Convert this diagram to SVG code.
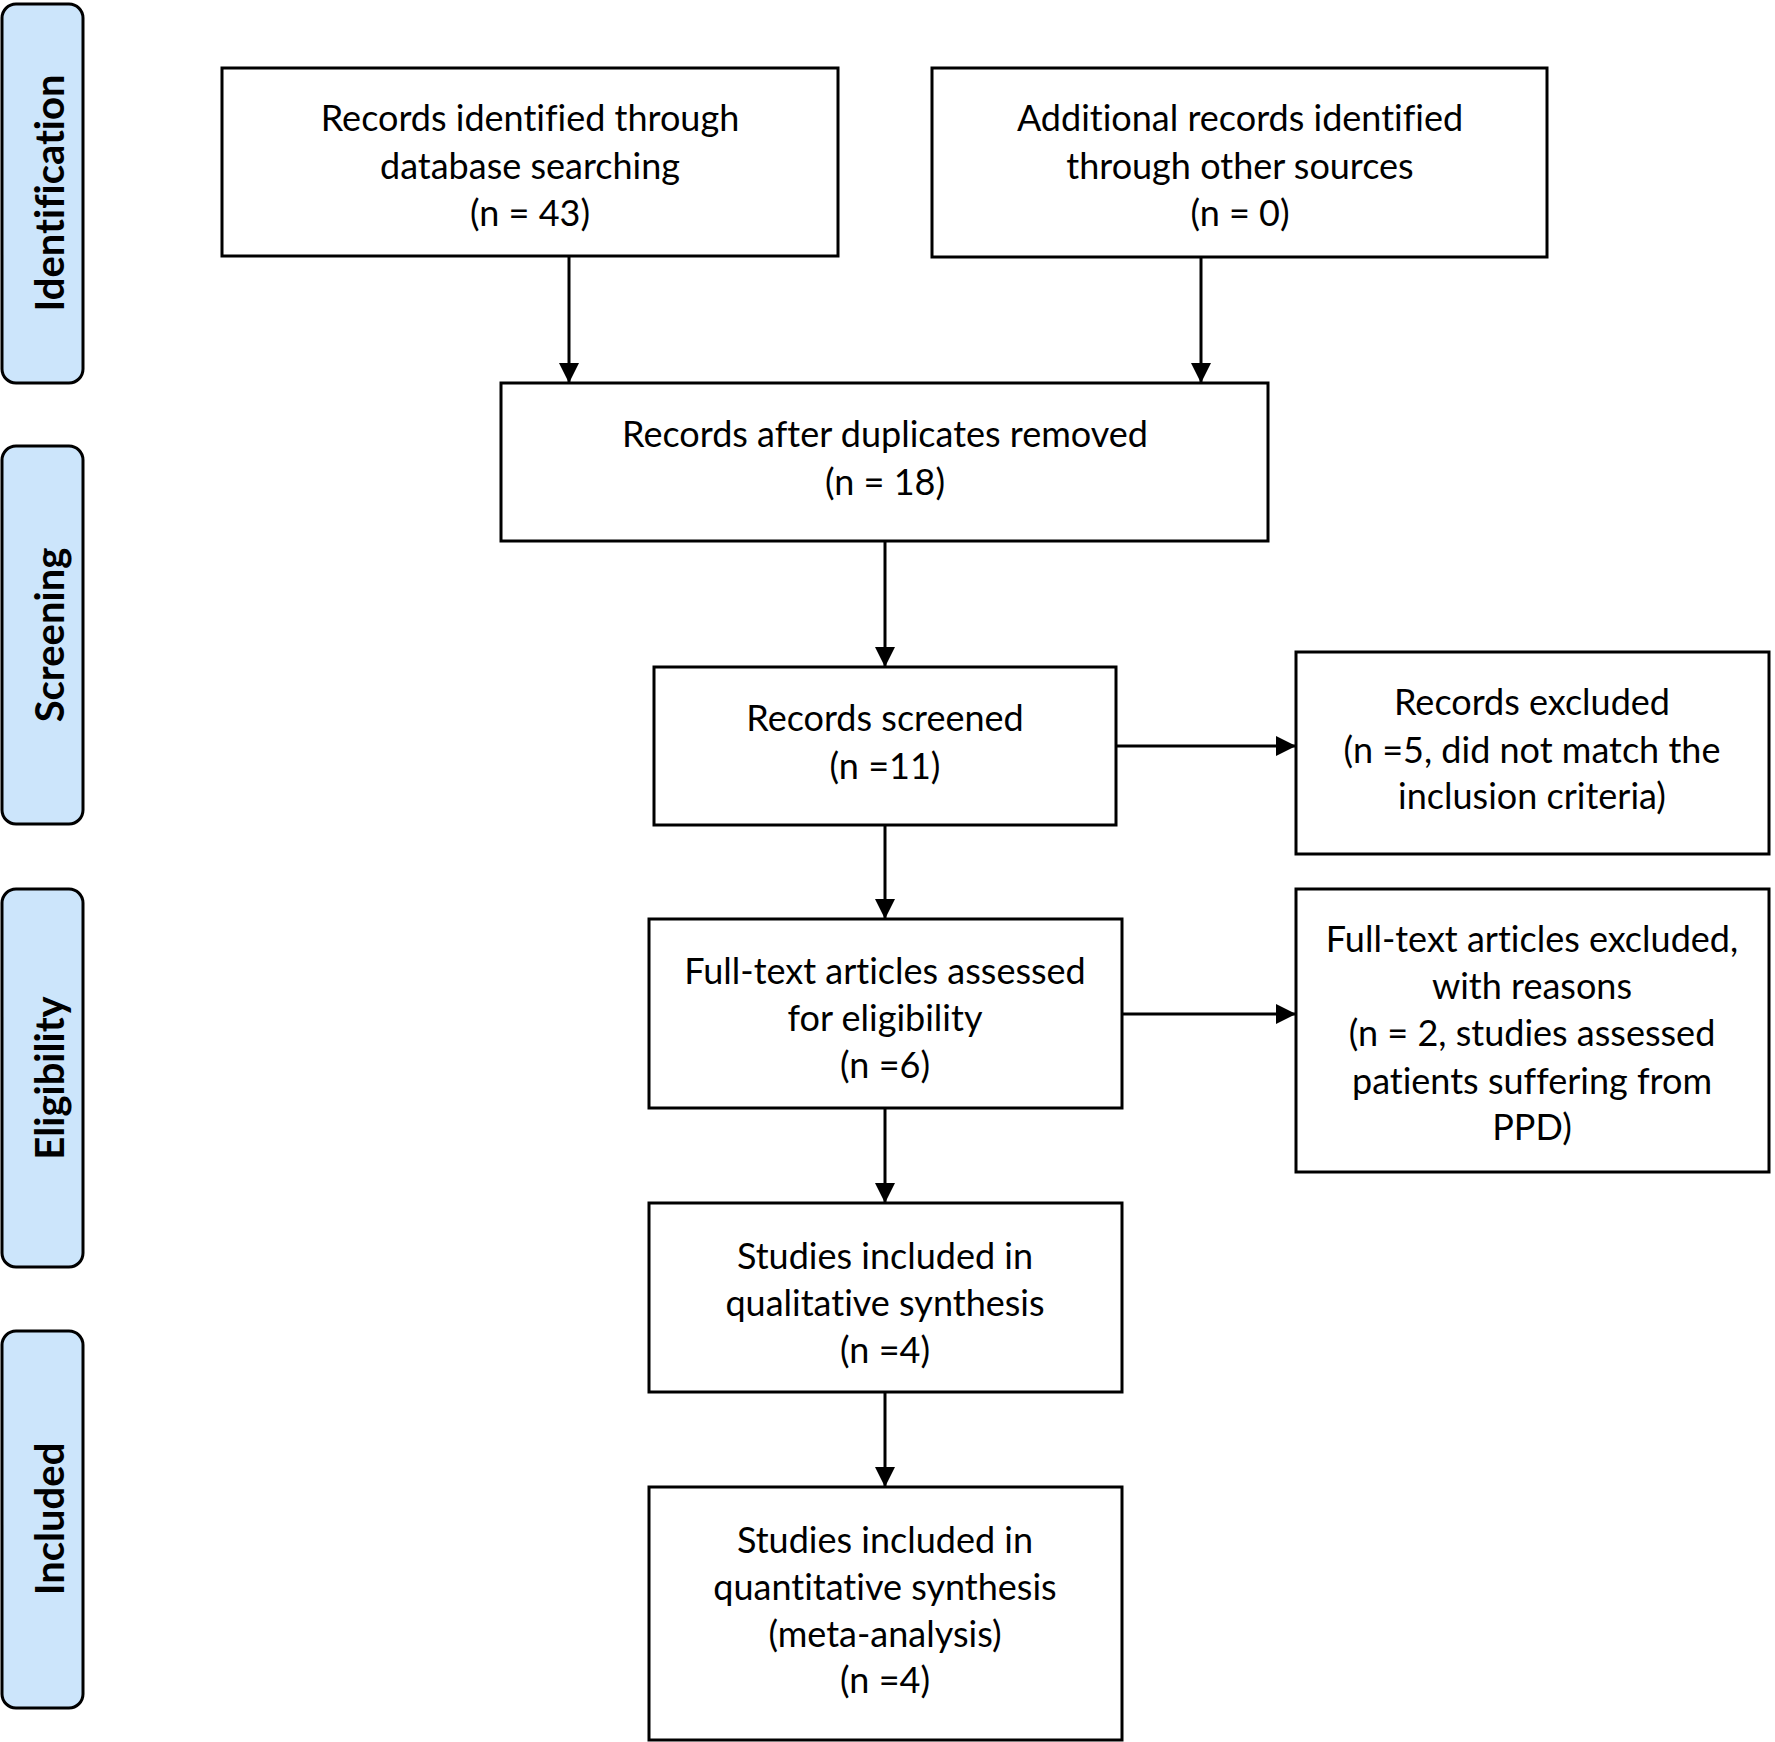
<svg xmlns="http://www.w3.org/2000/svg" width="1775" height="1742" viewBox="0 0 1775 1742">
<style>
.box{fill:#fff;stroke:#000;stroke-width:3}
.side{fill:#cce5fb;stroke:#000;stroke-width:3}
.t{font-family:Lato,"Open Sans",sans-serif;font-size:36px;text-anchor:middle;fill:#000;font-variant-ligatures:none}
.s{font-family:Lato,"Open Sans",sans-serif;font-size:40px;font-weight:bold;text-anchor:middle;fill:#000;font-variant-ligatures:none}
.c{stroke:#000;stroke-width:3;fill:none;marker-end:url(#ah)}
</style>
<defs>
<marker id="ah" markerUnits="userSpaceOnUse" markerWidth="22" markerHeight="22" refX="20" refY="10" orient="auto">
<path d="M0,0 L20,10 L0,20 Z" fill="#000"/>
</marker>
</defs>
<rect width="1775" height="1742" fill="#fff"/>
<g id="phase-identification"><rect class="side" x="2" y="4" width="81" height="379" rx="14"/><text class="s" transform="translate(64,193) rotate(-90)">Identification</text></g>
<g id="phase-screening"><rect class="side" x="2" y="446" width="81" height="378" rx="14"/><text class="s" transform="translate(64,635) rotate(-90)">Screening</text></g>
<g id="phase-eligibility"><rect class="side" x="2" y="889" width="81" height="378" rx="14"/><text class="s" transform="translate(64,1078) rotate(-90)">Eligibility</text></g>
<g id="phase-included"><rect class="side" x="2" y="1331" width="81" height="377" rx="14"/><text class="s" transform="translate(64,1519) rotate(-90)">Included</text></g>

<g id="connectors">
<line class="c" x1="569" y1="256" x2="569" y2="383"/>
<line class="c" x1="1201" y1="257" x2="1201" y2="383"/>
<line class="c" x1="885" y1="541" x2="885" y2="667"/>
<line class="c" x1="885" y1="825" x2="885" y2="919"/>
<line class="c" x1="885" y1="1108" x2="885" y2="1203"/>
<line class="c" x1="885" y1="1392" x2="885" y2="1487"/>
<line class="c" x1="1116" y1="746" x2="1296" y2="746"/>
<line class="c" x1="1122" y1="1014" x2="1296" y2="1014"/>
</g>

<g id="n1"><rect class="box" x="222" y="68" width="616" height="188"/>
<text class="t" x="530" y="131">Records identified through</text>
<text class="t" x="530" y="179">database searching</text>
<text class="t" x="530" y="226">(n = 43)</text></g>
<g id="n2"><rect class="box" x="932" y="68" width="615" height="189"/>
<text class="t" x="1240" y="131">Additional records identified</text>
<text class="t" x="1240" y="179">through other sources</text>
<text class="t" x="1240" y="226">(n = 0)</text></g>
<g id="n3"><rect class="box" x="501" y="383" width="767" height="158"/>
<text class="t" x="885" y="447">Records after duplicates removed</text>
<text class="t" x="885" y="495">(n = 18)</text></g>
<g id="n4"><rect class="box" x="654" y="667" width="462" height="158"/>
<text class="t" x="885" y="731">Records screened</text>
<text class="t" x="885" y="779">(n =11)</text></g>
<g id="n5"><rect class="box" x="1296" y="652" width="473" height="202"/>
<text class="t" x="1532" y="715">Records excluded</text>
<text class="t" x="1532" y="763">(n =5, did not match the</text>
<text class="t" x="1532" y="809">inclusion criteria)</text></g>
<g id="n6"><rect class="box" x="649" y="919" width="473" height="189"/>
<text class="t" x="885" y="984">Full-text articles assessed</text>
<text class="t" x="885" y="1031">for eligibility</text>
<text class="t" x="885" y="1078">(n =6)</text></g>
<g id="n7"><rect class="box" x="1296" y="889" width="473" height="283"/>
<text class="t" x="1532" y="952">Full-text articles excluded,</text>
<text class="t" x="1532" y="999">with reasons</text>
<text class="t" x="1532" y="1046">(n = 2, studies assessed</text>
<text class="t" x="1532" y="1094">patients suffering from</text>
<text class="t" x="1532" y="1140">PPD)</text></g>
<g id="n8"><rect class="box" x="649" y="1203" width="473" height="189"/>
<text class="t" x="885" y="1269">Studies included in</text>
<text class="t" x="885" y="1316">qualitative synthesis</text>
<text class="t" x="885" y="1363">(n =4)</text></g>
<g id="n9"><rect class="box" x="649" y="1487" width="473" height="253"/>
<text class="t" x="885" y="1553">Studies included in</text>
<text class="t" x="885" y="1600">quantitative synthesis</text>
<text class="t" x="885" y="1647">(meta-analysis)</text>
<text class="t" x="885" y="1693">(n =4)</text></g>
</svg>
